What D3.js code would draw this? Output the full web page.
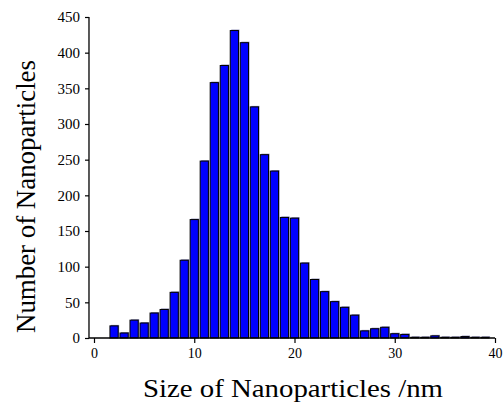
<!DOCTYPE html>
<html>
<head>
<meta charset="utf-8">
<script src="https://cdn.jsdelivr.net/npm/d3@7"></script>
<style>
  body { margin: 0; background: #fff; }
  svg, svg text { font-family: "Liberation Serif", "DejaVu Serif", serif; }
</style>
</head>
<body>
<div id="chart"></div>
<script>
// particle size bins (nm) and counts
const sizes = [2, 3, 4, 5, 6, 7, 8, 9, 10, 11, 12, 13, 14, 15, 16, 17, 18, 19, 20,
               21, 22, 23, 24, 25, 26, 27, 28, 29, 30, 31, 32, 33, 34, 35, 36, 37, 38, 39];
const counts = [17, 7, 25, 21, 35, 40, 64, 109, 166, 248, 358, 382, 431, 414, 324, 257, 234, 169, 168,
                105, 82, 65, 51, 43, 32, 10, 13, 15, 6, 5, 1, 1, 3, 1, 1, 2, 1, 1];
const xTicks = [0, 10, 20, 30, 40];
const yTicks = [0, 50, 100, 150, 200, 250, 300, 350, 400, 450];

const width = 504;
const height = 402;
const serif = '"Liberation Serif", "DejaVu Serif", serif';

const bins = sizes.map((s, i) => ({ size: s, count: counts[i] }));

const svg = d3.select('#chart')
    .append('svg')
    .attr('width', width)
    .attr('height', height);

const x = d3.scaleLinear().domain([0, 40]).range([94, 495]);
const y = d3.scaleLinear().domain([0, 450]).range([338, 17]);
const barW = 0.82;

// soft shadow behind each bar
svg.append('g').selectAll('rect')
    .data(bins)
    .enter()
    .append('rect')
    .attr('x', d => x(d.size - barW / 2) + 1)
    .attr('y', d => y(d.count) - 1)
    .attr('width', x(barW) - x(0))
    .attr('height', d => y(0) - y(d.count))
    .attr('fill', '#8c8cb4');

svg.append('g').selectAll('rect')
    .data(bins)
    .enter()
    .append('rect')
    .attr('x', d => x(d.size - barW / 2))
    .attr('y', d => y(d.count))
    .attr('width', x(barW) - x(0))
    .attr('height', d => y(0) - y(d.count))
    .attr('fill', '#0000ff')
    .attr('stroke', '#000')
    .attr('stroke-width', 1);

// x axis
const xAxis = svg.append('g').attr('transform', `translate(0,${y(0)})`);
xAxis.append('line')
    .attr('x1', x(-0.5)).attr('x2', x(40))
    .attr('stroke', '#000').attr('stroke-width', 1.3);
xAxis.call(d3.axisBottom(x).tickValues(d3.range(5, 40, 10)).tickSize(3).tickFormat(''))
    .call(d3.axisBottom(x).tickValues(xTicks).tickSize(5).tickPadding(5))
    .call(g => g.selectAll('.domain').remove())
    .attr('font-family', serif)
    .attr('font-size', 14);

// y axis
const yAxis = svg.append('g').attr('transform', `translate(${x(-0.5)},0)`);
yAxis.append('line')
    .attr('y1', y(0)).attr('y2', y(450))
    .attr('stroke', '#000').attr('stroke-width', 1.3);
yAxis.call(d3.axisLeft(y).tickValues(d3.range(25, 450, 50)).tickSize(2).tickFormat(''))
    .call(d3.axisLeft(y).tickValues(yTicks).tickSize(4).tickPadding(5))
    .call(g => g.selectAll('.domain').remove())
    .attr('font-family', serif)
    .attr('font-size', 15);

svg.selectAll('.tick line').attr('stroke-width', 1.2);

svg.append('text')
    .attr('x', 293)
    .attr('y', 397)
    .attr('text-anchor', 'middle')
    .attr('font-size', 25)
    .attr('textLength', 300)
    .attr('lengthAdjust', 'spacingAndGlyphs')
    .text('Size of Nanoparticles /nm');

svg.append('text')
    .attr('transform', 'translate(35,196.5) rotate(-90)')
    .attr('text-anchor', 'middle')
    .attr('font-size', 27)
    .attr('textLength', 273)
    .attr('lengthAdjust', 'spacingAndGlyphs')
    .text('Number of Nanoparticles');
</script>
</body>
</html>
